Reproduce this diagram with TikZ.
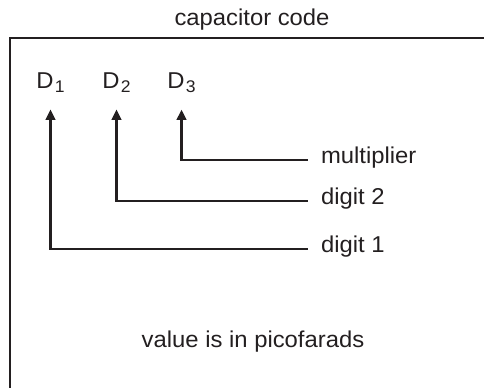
\documentclass[tikz,border=0pt]{standalone}
\usepackage{fontspec}
\setmainfont[FakeStretch=1.04]{Liberation Sans}
\usetikzlibrary{arrows.meta}
\definecolor{cink}{HTML}{231F20}
\newcommand\dsub[1]{\kern0.8pt\raisebox{-3.5pt}{\fontsize{12pt}{13pt}\selectfont#1}}
\tikzset{
  every picture/.style={color=cink, line width=0.55mm, font=\fontsize{16.3pt}{19pt}\selectfont},
  frame/.style={line width=0.55mm, line cap=rect},
  arrow/.style={-{Triangle[width=2.4mm, length=2.6mm]}, line width=0.55mm},
  caption/.style={anchor=base, inner sep=0pt},
}

\begin{document}
\begin{tikzpicture}[x=0.25mm, y=-0.25mm,
  digit/.style={anchor=base, inner xsep=0pt, inner ysep=3.85mm},
  lbl/.style={anchor=mid west, inner xsep=3.1mm, inner ysep=0pt}]
  \useasboundingbox (0,0) rectangle (484,387);
  \node[caption] (title) at (252,25) {capacitor code};
  \draw[frame] (10.3,400) |- (500,37.7);
  \foreach \k/\x in {1/50.5, 2/116.5, 3/181.5} \node[digit] (d\k) at (\x,88) {D\dsub{\k}};
  \foreach \w/\y [count=\k] in {digit 1/249, digit 2/201, multiplier/160} \node[lbl] (l\k) at (307.5,\y) {\w};
  \foreach \k in {1,2,3} \draw[arrow] (l\k.mid west) -| (d\k);
  \node[caption] (unit) at (253,347.7) {value is in picofarads};
\end{tikzpicture}
\end{document}
